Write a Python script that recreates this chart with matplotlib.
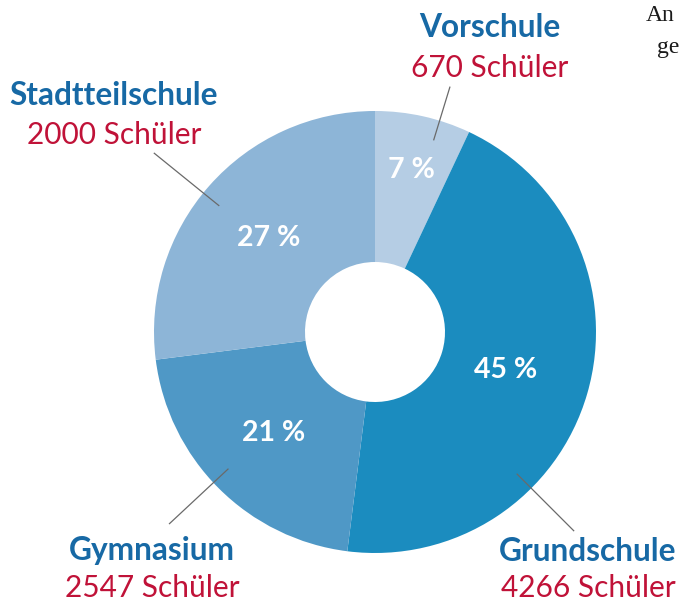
import numpy as np
import matplotlib
matplotlib.use('Agg')
from matplotlib import pyplot as plt

# Daten
schularten = ['Vorschule', 'Grundschule', 'Gymnasium', 'Stadtteilschule']
anteile = [7, 45, 21, 27]              # Prozent (Segmentgrösse)
schueler = [670, 4266, 2547, 2000]     # Anzahl Schüler (Beschriftung)
farben = ['#b5cde4', '#1b8cbf', '#4f98c6', '#8db5d7']

BLAU = '#1769a5'
ROT = '#c01238'
W, H = 683, 602

plt.rcParams['font.family'] = ['Lato', 'DejaVu Sans']

fig = plt.figure(figsize=(W / 100, H / 100), dpi=100)
ax = fig.add_axes([0, 0, 1, 1])

def py(y):
    # Pixelzeile (von oben) -> Datenkoordinate
    return H - y

cx, cy = 375, py(332)
r_aussen, r_innen = 221, 70

wedges, _ = ax.pie(anteile, colors=farben, startangle=90, counterclock=False,
                   radius=r_aussen, center=(cx, cy), frame=True,
                   wedgeprops=dict(width=r_aussen - r_innen, linewidth=0))
ax.set_xlim(0, W)
ax.set_ylim(0, H)
ax.set_aspect('equal')
ax.axis('off')

# Prozentwerte in den Segmenten
pct_radius = [166, 136, 143, 142]
for w, p, r in zip(wedges, anteile, pct_radius):
    mid = np.deg2rad((w.theta1 + w.theta2) / 2)
    ax.text(cx + r * np.cos(mid), cy + r * np.sin(mid), f'{p} %',
            ha='center', va='center', color='white', fontsize=20.5,
            fontweight='bold')

# Hinweislinien (Winkel von oben im Uhrzeigersinn)
linien_winkel = [17, 309, 227, 135]
linien_ende = [256, 284, 281, 281]
for a, r2 in zip(linien_winkel, linien_ende):
    t = np.deg2rad(90 - a)
    ax.plot([cx + 201 * np.cos(t), cx + r2 * np.cos(t)],
            [cy + 201 * np.sin(t), cy + r2 * np.sin(t)],
            color='#6a6a6a', lw=0.9)

# Beschriftungen
label_pos = {'Vorschule': (490, 37, 77),
             'Grundschule': (588, 561, 597),
             'Gymnasium': (152, 560, 597),
             'Stadtteilschule': (114, 105, 144)}
for name, n in zip(schularten, schueler):
    x, y1, y2 = label_pos[name]
    ax.text(x, py(y1), name, ha='center', va='baseline', color=BLAU,
            fontsize=22.8, fontweight='bold')
    ax.text(x, py(y2), f'{n} Schüler', ha='center', va='baseline',
            color=ROT, fontsize=21.5)

# abgeschnittener Fliesstext rechts oben
ax.text(646, py(21), 'An', family='Liberation Serif', fontsize=17,
        color='#1a1a1a', va='baseline')
ax.text(657, py(53), 'ge', family='Liberation Serif', fontsize=17,
        color='#1a1a1a', va='baseline')

fig.savefig('out.png', dpi=100)
